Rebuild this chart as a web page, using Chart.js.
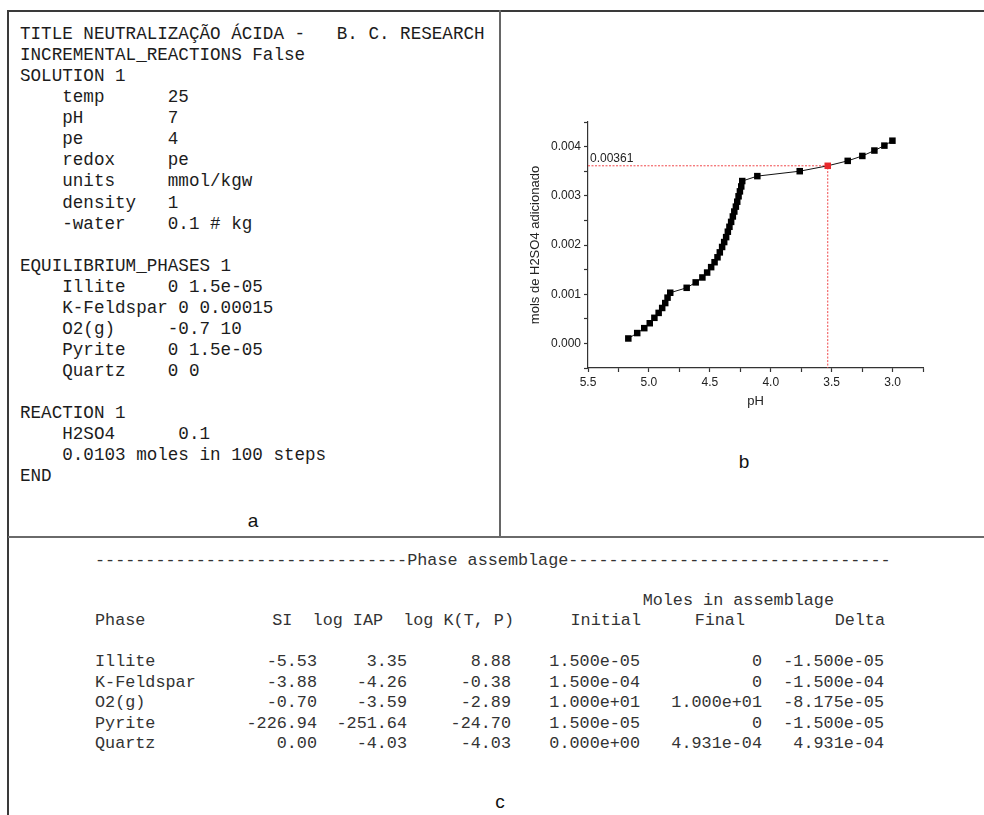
<!DOCTYPE html>
<html>
<head>
<meta charset="utf-8">
<script src="https://cdn.jsdelivr.net/npm/chart.js@4.4.1/dist/chart.umd.min.js"></script>
<style>
  html, body { margin: 0; padding: 0; background: #fff; }
  body { width: 984px; height: 815px; position: relative; overflow: hidden; }
  .line { position: absolute; }
  .mono-a {
    position: absolute; left: 20px; top: 24px; margin: 0;
    font-family: "Liberation Mono", monospace; font-size: 17.6px; line-height: 21.07px;
    color: #1c1c1c; white-space: pre;
  }
  .cell {
    position: absolute; font-family: "Liberation Mono", monospace; font-size: 16.8px;
    line-height: 20px; color: #333; white-space: pre;
  }
  .panel-label {
    position: absolute; font-family: "Liberation Sans", Arial, sans-serif; font-size: 19px;
    color: #111; transform: translate(-50%, -50%);
  }
  #chartB { position: absolute; left: 500px; top: 110px; }
</style>
</head>
<body>
<div class="line" style="left:8px; top:10px; width:976px; height:2px; background:#3a3a3a"></div>
<div class="line" style="left:7px; top:10px; width:2px; height:805px; background:#3a3a3a"></div>
<div class="line" style="left:499px; top:10px; width:2px; height:528px; background:#666"></div>
<div class="line" style="left:8px; top:536px; width:976px; height:2px; background:#6a6a6a"></div>

<pre class="mono-a" id="scriptText"></pre>
<div class="panel-label" style="left:253px; top:521px">a</div>

<canvas id="chartB" width="440" height="310"></canvas>
<div class="panel-label" style="left:744px; top:462px">b</div>

<div id="tableC"></div>
<div class="panel-label" style="left:500px; top:802px">c</div>

<script>
// ================= PANEL B DATA =================
const phValues = [
    5.169, 5.096, 5.038, 4.993, 4.955, 4.920, 4.891, 4.866, 4.847, 4.825,
    4.690, 4.616, 4.561, 4.522, 4.489, 4.461, 4.437, 4.418, 4.399, 4.382,
    4.366, 4.352, 4.339, 4.325, 4.311, 4.299, 4.286, 4.275, 4.264, 4.253,
    4.242, 4.234, 4.110, 3.762, 3.532, 3.368, 3.248, 3.149, 3.067, 3.001
];
const molValues = [
    0.00010, 0.00021, 0.00031, 0.00041, 0.00052, 0.00062, 0.00072, 0.00082, 0.00093, 0.00103,
    0.00113, 0.00124, 0.00134, 0.00144, 0.00155, 0.00165, 0.00175, 0.00185, 0.00196, 0.00206,
    0.00216, 0.00227, 0.00237, 0.00247, 0.00258, 0.00268, 0.00278, 0.00288, 0.00299, 0.00309,
    0.00319, 0.00330, 0.00340, 0.00350, 0.00361, 0.00371, 0.00381, 0.00392, 0.00402, 0.00412
];
const highlightIndex = 34;          // the red point, 0.00361 mol
const xLimits = [2.75, 5.5];        // pH axis (reversed)
const yLimits = [-0.0005, 0.0045];
const xStep = 0.25, yStep = 0.0005;

// ================= PANEL A / C TEXT =================
const scriptLines = [
    "TITLE NEUTRALIZAÇÃO ÁCIDA -   B. C. RESEARCH",
    "INCREMENTAL_REACTIONS False",
    "SOLUTION 1",
    "    temp      25",
    "    pH        7",
    "    pe        4",
    "    redox     pe",
    "    units     mmol/kgw",
    "    density   1",
    "    -water    0.1 # kg",
    "",
    "EQUILIBRIUM_PHASES 1",
    "    Illite    0 1.5e-05",
    "    K-Feldspar 0 0.00015",
    "    O2(g)     -0.7 10",
    "    Pyrite    0 1.5e-05",
    "    Quartz    0 0",
    "",
    "REACTION 1",
    "    H2SO4      0.1",
    "    0.0103 moles in 100 steps",
    "END"
];

const headerCells = ["SI  log IAP  log K(T, P)", "Initial", "Final", "Delta"];
const headerRight = [514, 641, 745, 885];
const phaseNames = ["Illite", "K-Feldspar", "O2(g)", "Pyrite", "Quartz"];
const phaseRows = [
    ["-5.53", "3.35", "8.88", "1.500e-05", "0", "-1.500e-05"],
    ["-3.88", "-4.26", "-0.38", "1.500e-04", "0", "-1.500e-04"],
    ["-0.70", "-3.59", "-2.89", "1.000e+01", "1.000e+01", "-8.175e-05"],
    ["-226.94", "-251.64", "-24.70", "1.500e-05", "0", "-1.500e-05"],
    ["0.00", "-4.03", "-4.03", "0.000e+00", "4.931e-04", "4.931e-04"]
];
const rowRight = [317, 407, 511, 640, 762, 884];

document.getElementById("scriptText").textContent = scriptLines.join("\n");

//
// ================= PANEL C TABLE =================
//
function putCell(text, x, top, alignRight) {
    const el = document.createElement("div");
    el.className = "cell";
    el.textContent = text;
    el.style.top = top + "px";
    if (alignRight) {
        el.style.right = (984 - x) + "px";
    } else {
        el.style.left = x + "px";
    }
    document.getElementById("tableC").appendChild(el);
}

putCell("-------------------------------Phase assemblage--------------------------------", 95, 551, false);
putCell("Moles in assemblage", 834, 591, true);
putCell("Phase", 95, 611, false);
headerCells.forEach((h, i) => putCell(h, headerRight[i], 611, true));

phaseNames.forEach((name, r) => {
    const top = 652 + r * 20.5;
    putCell(name, 95, top, false);
    phaseRows[r].forEach((v, c) => putCell(v, rowRight[c], top, true));
});

//
// ================= PANEL B CHART =================
//
Chart.defaults.font.family = '"Liberation Sans", Arial, sans-serif';
Chart.defaults.color = "#222";

const points = phValues.map((ph, i) => ({ x: ph, y: molValues[i] }));
const crossPH = phValues[highlightIndex];
const crossMol = molValues[highlightIndex];

const guideLabel = {
    id: "guideLabel",
    afterDatasetsDraw(chart) {
        const { ctx, chartArea, scales } = chart;
        const y = scales.y.getPixelForValue(crossMol);
        ctx.save();
        ctx.font = '12px "Liberation Sans", Arial, sans-serif';
        ctx.fillStyle = "#222";
        ctx.textBaseline = "bottom";
        ctx.fillText(String(crossMol), chartArea.left + 2, y - 1);
        ctx.restore();
    }
};

// label only every n-th tick, the others stay as minor marks
function majorLabel(v, every, digits) {
    const r = Math.round(v / every);
    return Math.abs(v / every - r) < 1e-6 ? (r * every).toFixed(digits) : "";
}

const axisLook = {
    border: { display: true, color: "#333", width: 1.2 },
    grid: { drawOnChartArea: false, drawTicks: true, tickLength: 4, color: "#333", tickWidth: 1.2 }
};

new Chart(document.getElementById("chartB"), {
    type: "scatter",
    data: {
        datasets: [
            {
                data: points,
                showLine: true,
                borderColor: "#111",
                borderWidth: 1,
                pointStyle: "rect",
                pointRadius: 4.6,
                pointHoverRadius: 4.6,
                pointBorderWidth: 0,
                pointBackgroundColor: points.map((p, i) => i === highlightIndex ? "#e8282b" : "#000")
            },
            {
                data: [
                    { x: xLimits[1], y: crossMol },
                    { x: crossPH, y: crossMol },
                    { x: crossPH, y: yLimits[0] }
                ],
                showLine: true,
                borderColor: "#f0474a",
                borderWidth: 1,
                borderDash: [2, 1.5],
                pointRadius: 0
            }
        ]
    },
    options: {
        responsive: false,
        animation: false,
        devicePixelRatio: 1,
        layout: { padding: { top: 12, right: 17, bottom: 0, left: 0 } },
        plugins: { legend: { display: false }, tooltip: { enabled: false } },
        scales: {
            x: {
                type: "linear",
                reverse: true,
                min: xLimits[0],
                max: xLimits[1],
                ...axisLook,
                ticks: {
                    stepSize: xStep,
                    autoSkip: false,
                    maxRotation: 0,
                    padding: 3,
                    font: { size: 12 },
                    callback: v => majorLabel(v, 0.5, 1)
                },
                title: { display: true, text: "pH", font: { size: 13 }, padding: { top: 0, bottom: 11 } },
                afterFit: s => { s.height = 52; }
            },
            y: {
                min: yLimits[0],
                max: yLimits[1],
                ...axisLook,
                ticks: {
                    stepSize: yStep,
                    autoSkip: false,
                    padding: 3,
                    font: { size: 12 },
                    callback: v => majorLabel(v, 0.001, 3)
                },
                title: {
                    display: true,
                    text: "mols de H2SO4 adicionado",
                    font: { size: 13 },
                    padding: { top: 28, bottom: 0 }
                },
                afterFit: s => { s.width = 88; }
            }
        }
    },
    plugins: [guideLabel]
});
</script>
</body>
</html>
